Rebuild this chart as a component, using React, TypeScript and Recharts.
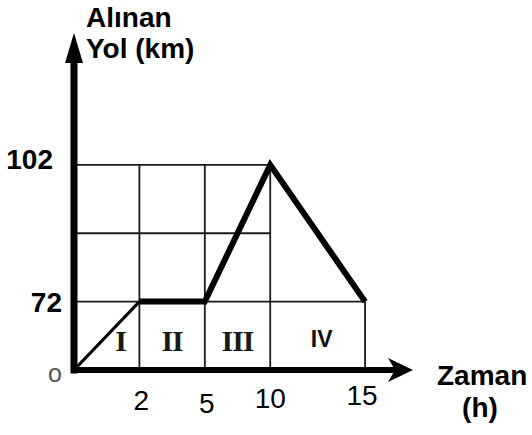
import React from 'react';
import {
  ComposedChart,
  Line,
  XAxis,
  YAxis,
  ReferenceLine,
  ReferenceArea,
  ReferenceDot,
} from 'recharts';

// travel data: time (h) and distance taken (km)
const times = [0, 2, 5, 10, 15];
const distance = [0, 72, 72, 102, 72];
const xTicks = [2, 5, 10, 15];
const yTicks = [0, 72, 102];
const gridRows = [72, 87, 102];
const regionNames = ['I', 'II', 'III', 'IV'];

const xMax = 17;
const yMax = 125;

const data = times.map((t, i) => ({
  t,
  d: distance[i],
  first: i <= 1 ? distance[i] : null,
  rest: i >= 1 ? distance[i] : null,
}));

// each horizontal grid row runs as far as the path stays at or above it
const rowEnd = (y: number) =>
  Math.max(...times.filter((t, i) => distance[i] >= y));
const colTop = (t: number) =>
  Math.max(...gridRows.filter((y) => rowEnd(y) >= t));

// schematic (non uniform) axis, like the drawing on the worksheet
function piecewise(knots: number[], slots: number[]) {
  let dom = [0, 1];
  let rng = [0, 1];
  const toSlot = (v: number) => {
    let i = 0;
    while (i < knots.length - 2 && v > knots[i + 1]) i++;
    const k = (v - knots[i]) / (knots[i + 1] - knots[i]);
    return slots[i] + k * (slots[i + 1] - slots[i]);
  };
  const scale: any = (v: number) => {
    const s0 = toSlot(dom[0]);
    const s1 = toSlot(dom[dom.length - 1]);
    const r0 = rng[0];
    const r1 = rng[rng.length - 1];
    return r0 + ((toSlot(v) - s0) / (s1 - s0)) * (r1 - r0);
  };
  scale.domain = (d?: any[]) => {
    if (d === undefined) return dom.slice();
    dom = d.map(Number);
    return scale;
  };
  scale.range = (r?: number[]) => {
    if (r === undefined) return rng.slice();
    rng = r.slice();
    return scale;
  };
  scale.ticks = () => knots.slice();
  scale.copy = () => piecewise(knots, slots).domain(dom).range(rng);
  return scale;
}

const xScale = piecewise(times, [0, 1, 2, 3, 4.45]);
const yScale = piecewise([0, 72, 102], [0, 1, 3]);

const SANS = '"Liberation Sans", Arial, sans-serif';
const SERIF = '"Liberation Serif", "Times New Roman", serif';

const xTickNudge: Record<number, [number, number]> = {
  2: [2, 40],
  5: [2, 43],
  10: [0, 38],
  15: [-3, 35],
};

const XTick = (props: any) => {
  const { x, y, payload } = props;
  const [dx, dy] = xTickNudge[payload.value] || [0, 38];
  return (
    <text x={x + dx} y={y + dy} textAnchor="middle" fontFamily={SANS} fontSize={28} fill="#000">
      {payload.value}
    </text>
  );
};

const YTick = (props: any) => {
  const { x, y, payload } = props;
  if (payload.value === 0) {
    return (
      <text x={55} y={y + 12} textAnchor="middle" fontFamily={SANS} fontSize={25} fill="#555">
        o
      </text>
    );
  }
  const dx = payload.value === 102 ? -21 : -12;
  const dy = payload.value === 102 ? 4 : 10;
  return (
    <text x={x + dx} y={y + dy} textAnchor="end" fontFamily={SANS} fontSize={28} fontWeight="bold" fill="#000">
      {payload.value}
    </text>
  );
};

const YTitle = (props: any) => {
  const vb = props.viewBox;
  const x = vb.x + vb.width + 12;
  return (
    <text fontFamily={SANS} fontSize={28} fontWeight="bold" fill="#000">
      <tspan x={x} y={vb.y - 33}>Alınan</tspan>
      <tspan x={x} y={vb.y - 2}>Yol (km)</tspan>
    </text>
  );
};

const XTitle = (props: any) => {
  const vb = props.viewBox;
  const right = vb.x + vb.width;
  return (
    <text fontFamily={SANS} fontSize={28} fontWeight="bold" fill="#000">
      <tspan x={right + 34} y={vb.y + 15}>Zaman</tspan>
      <tspan x={right + 77} y={vb.y + 47} textAnchor="middle">(h)</tspan>
    </text>
  );
};

const regionNudge = [14, 0, 0, 4];

const RegionLabel = (props: any) => {
  const { viewBox, text, index } = props;
  const cx = viewBox.x + viewBox.width / 2 + regionNudge[index];
  const cy = viewBox.y + viewBox.height / 2;
  if (text === 'IV') {
    return (
      <text x={cx} y={cy + 11} textAnchor="middle" fontFamily={SANS} fontSize={23} fontWeight="bold" fill="#111">
        {text}
      </text>
    );
  }
  return (
    <text
      x={cx}
      y={cy + 15}
      textAnchor="middle"
      fontFamily={SERIF}
      fontSize={30}
      fontWeight="bold"
      letterSpacing={-1}
      fill="#1a1a1a"
    >
      {text}
    </text>
  );
};

const RightArrow = (props: any) => {
  const { cx, cy } = props;
  return (
    <polygon
      points={`${cx + 10},${cy} ${cx - 15},${cy - 12} ${cx - 8},${cy} ${cx - 15},${cy + 12}`}
      fill="#000"
    />
  );
};

const UpArrow = (props: any) => {
  const { cx, cy } = props;
  return (
    <polygon points={`${cx},${cy - 27} ${cx + 9},${cy + 3} ${cx - 9},${cy + 3}`} fill="#000" />
  );
};

export default function App() {
  return (
    <div style={{ position: 'absolute', left: 0, top: 0, background: '#fff' }}>
      <ComposedChart
        width={532}
        height={435}
        data={data}
        margin={{ top: 60, right: 129, bottom: 25, left: 14 }}
      >
        <XAxis
          dataKey="t"
          type="number"
          scale={xScale}
          domain={[0, xMax]}
          ticks={xTicks}
          allowDataOverflow
          height={40}
          tickLine={false}
          tickSize={0}
          tickMargin={0}
          tick={<XTick />}
          axisLine={{ stroke: '#000', strokeWidth: 6, strokeLinecap: 'square' }}
          label={<XTitle />}
        />
        <YAxis
          type="number"
          scale={yScale}
          domain={[0, yMax]}
          ticks={yTicks}
          allowDataOverflow
          width={60}
          tickLine={false}
          tickSize={0}
          tickMargin={0}
          tick={<YTick />}
          axisLine={{ stroke: '#000', strokeWidth: 7, strokeLinecap: 'square' }}
          label={<YTitle />}
        />

        {gridRows.map((y) => (
          <ReferenceLine
            key={`h${y}`}
            segment={[{ x: 0, y }, { x: rowEnd(y), y }]}
            stroke="#1a1a1a"
            strokeWidth={1.8}
            ifOverflow="visible"
          />
        ))}
        {xTicks.map((t) => (
          <ReferenceLine
            key={`v${t}`}
            segment={[{ x: t, y: 0 }, { x: t, y: colTop(t) }]}
            stroke="#1a1a1a"
            strokeWidth={1.8}
            ifOverflow="visible"
          />
        ))}

        {regionNames.map((name, i) => (
          <ReferenceArea
            key={name}
            x1={times[i]}
            x2={times[i + 1]}
            y1={0}
            y2={72}
            fill="none"
            fillOpacity={0}
            stroke="none"
            ifOverflow="visible"
            label={<RegionLabel text={name} index={i} />}
          />
        ))}

        <Line
          dataKey="first"
          stroke="#000"
          strokeWidth={3}
          dot={false}
          activeDot={false}
          connectNulls={false}
          isAnimationActive={false}
        />
        <Line
          dataKey="rest"
          stroke="#000"
          strokeWidth={6}
          dot={false}
          activeDot={false}
          connectNulls={false}
          isAnimationActive={false}
        />

        <ReferenceDot x={xMax} y={0} r={0} ifOverflow="visible" shape={<RightArrow />} />
        <ReferenceDot x={0} y={yMax} r={0} ifOverflow="visible" shape={<UpArrow />} />
      </ComposedChart>
    </div>
  );
}
